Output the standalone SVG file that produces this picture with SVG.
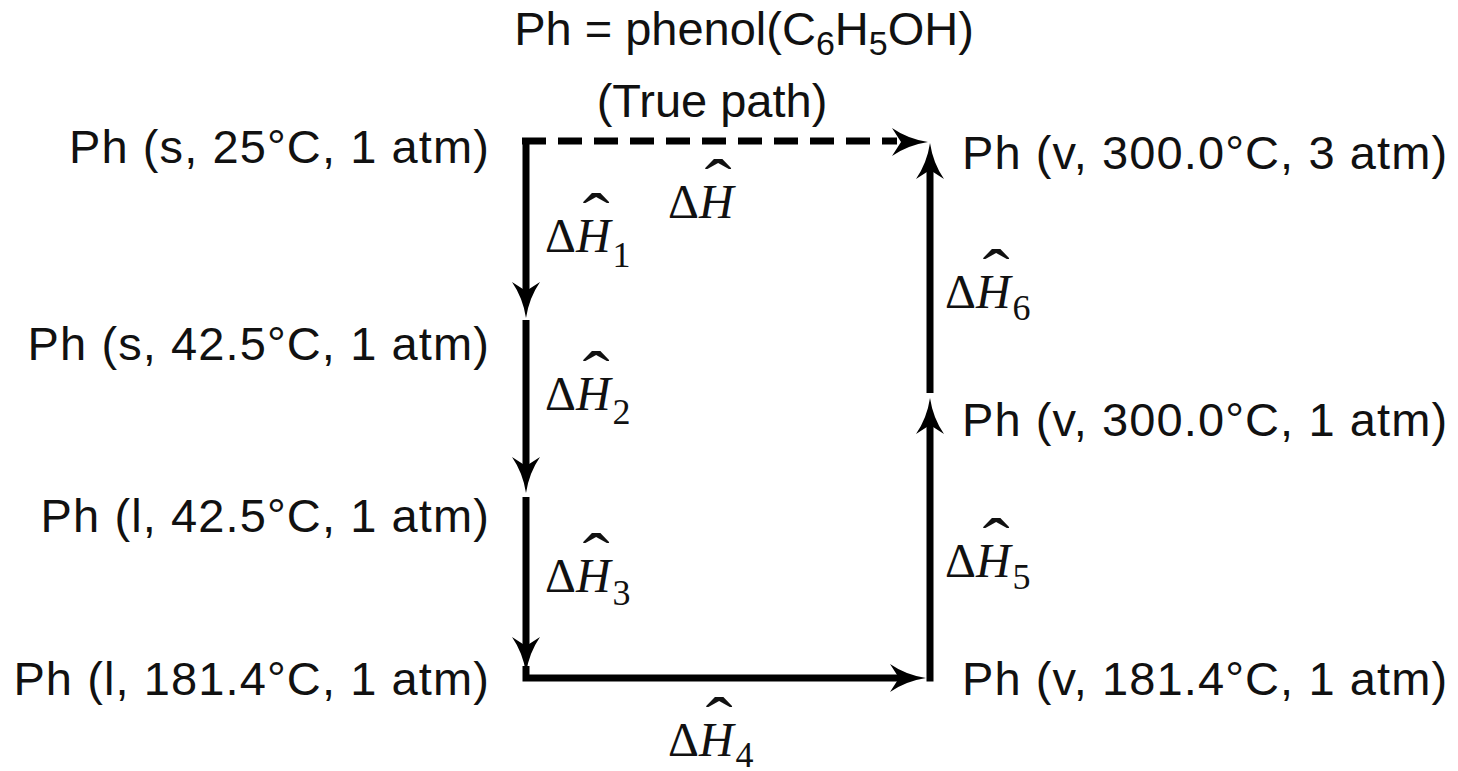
<svg xmlns="http://www.w3.org/2000/svg" xmlns:xlink="http://www.w3.org/1999/xlink" width="1458" height="771" viewBox="0 0 1458 771">
<style>
.t{font-family:"Liberation Sans",Arial,sans-serif;font-size:47px;fill:#111}
.n{letter-spacing:1.1px}
.ts{font-size:34px}
.m{font-family:"Liberation Serif","Times New Roman",serif;font-size:48px;fill:#111}
.i{font-style:italic}
.sub{font-size:36px}
.hat{font-family:"Liberation Serif","Times New Roman",serif;font-size:48px;fill:#111}
.ln{fill:none;stroke:#000;stroke-width:7;stroke-linejoin:miter}
.dash{stroke-dasharray:24 12}
.ah{fill:#000}
</style>
<defs>
<path id="ah" d="M0,0 Q-20,-3 -36,-14 L-27,0 L-36,14 Q-20,3 0,0 Z"/>
</defs>
<rect width="1458" height="771" fill="#fff"/>
<g id="title">
<text class="t" x="744" y="45" text-anchor="middle">Ph = phenol(C<tspan class="ts" dy="10">6</tspan><tspan dy="-10">H</tspan><tspan class="ts" dy="10">5</tspan><tspan dy="-10">OH)</tspan></text>
<text class="t" x="712" y="117" text-anchor="middle">(True path)</text>
</g>
<g id="connectors">
<path class="ln dash" d="M522,141 H897"/>
<use xlink:href="#ah" class="ah" transform="translate(928,142)"/>
<path class="ln" d="M526,138 V294"/>
<use xlink:href="#ah" class="ah" transform="translate(526,318) rotate(90)"/>
<path class="ln" d="M526,320 V469"/>
<use xlink:href="#ah" class="ah" transform="translate(526,493) rotate(90)"/>
<path class="ln" d="M526,497 V649"/>
<use xlink:href="#ah" class="ah" transform="translate(526,673) rotate(90)"/>
<path class="ln" d="M526,666 V678 H900"/>
<use xlink:href="#ah" class="ah" transform="translate(926,678) rotate(0)"/>
<path class="ln" d="M930,681.5 V422"/>
<use xlink:href="#ah" class="ah" transform="translate(930,398) rotate(-90)"/>
<path class="ln" d="M930,393 V168"/>
<use xlink:href="#ah" class="ah" transform="translate(930,143) rotate(-90)"/>
</g>
<g id="n1"><text class="t n" x="490" y="163" text-anchor="end">Ph (s, 25°C, 1 atm)</text></g>
<g id="n2"><text class="t n" x="490" y="360" text-anchor="end">Ph (s, 42.5°C, 1 atm)</text></g>
<g id="n3"><text class="t n" x="490" y="532" text-anchor="end">Ph (l, 42.5°C, 1 atm)</text></g>
<g id="n4"><text class="t n" x="490" y="695" text-anchor="end">Ph (l, 181.4°C, 1 atm)</text></g>
<g id="n5"><text class="t n" x="962" y="695">Ph (v, 181.4°C, 1 atm)</text></g>
<g id="n6"><text class="t n" x="962" y="436">Ph (v, 300.0°C, 1 atm)</text></g>
<g id="n7"><text class="t n" x="962" y="169">Ph (v, 300.0°C, 3 atm)</text></g>
<g id="labels">
<g id="dH"><text class="m" x="668" y="218">Δ<tspan class="i">H</tspan></text><text class="hat" transform="translate(718,206) scale(1.7,1.4)" text-anchor="middle">ˆ</text></g>
<g id="dH1"><text class="m" x="545" y="252">Δ<tspan class="i">H</tspan><tspan class="sub" dx="2" dy="15">1</tspan></text><text class="hat" transform="translate(596,240) scale(1.7,1.4)" text-anchor="middle">ˆ</text></g>
<g id="dH2"><text class="m" x="545" y="410">Δ<tspan class="i">H</tspan><tspan class="sub" dx="2" dy="14">2</tspan></text><text class="hat" transform="translate(596,398) scale(1.7,1.4)" text-anchor="middle">ˆ</text></g>
<g id="dH3"><text class="m" x="545" y="592">Δ<tspan class="i">H</tspan><tspan class="sub" dx="2" dy="13">3</tspan></text><text class="hat" transform="translate(596,580) scale(1.7,1.4)" text-anchor="middle">ˆ</text></g>
<g id="dH4"><text class="m" x="668" y="756">Δ<tspan class="i">H</tspan><tspan class="sub" dx="2" dy="11">4</tspan></text><text class="hat" transform="translate(719,744) scale(1.7,1.4)" text-anchor="middle">ˆ</text></g>
<g id="dH5"><text class="m" x="945" y="577">Δ<tspan class="i">H</tspan><tspan class="sub" dx="2" dy="12">5</tspan></text><text class="hat" transform="translate(996,565) scale(1.7,1.4)" text-anchor="middle">ˆ</text></g>
<g id="dH6"><text class="m" x="945" y="308">Δ<tspan class="i">H</tspan><tspan class="sub" dx="2" dy="12">6</tspan></text><text class="hat" transform="translate(996,296) scale(1.7,1.4)" text-anchor="middle">ˆ</text></g>
</g>
</svg>
